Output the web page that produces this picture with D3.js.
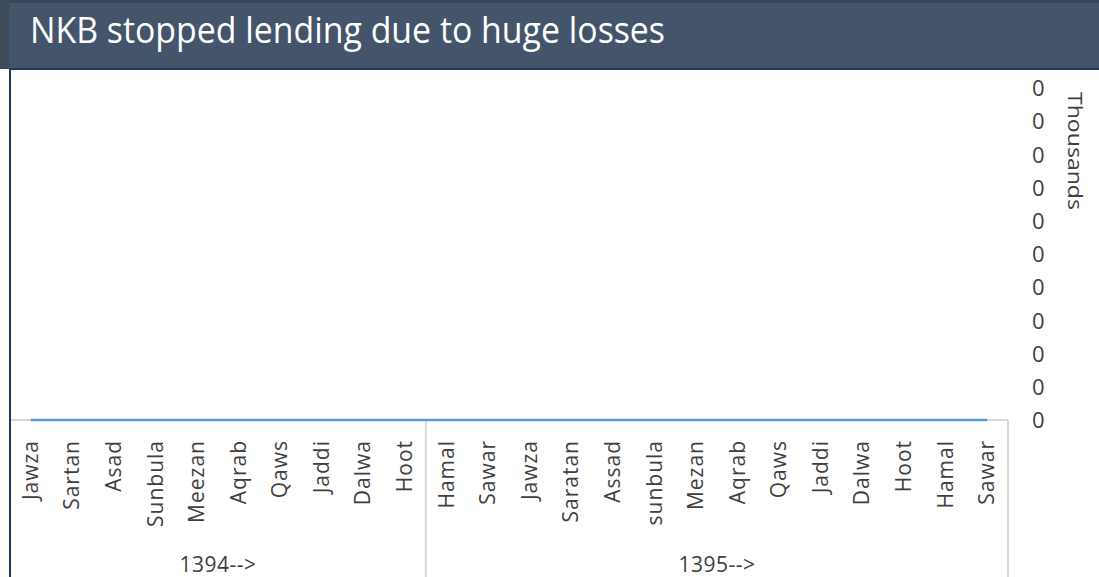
<!DOCTYPE html>
<html>
<head>
<meta charset="utf-8">
<script src="https://cdn.jsdelivr.net/npm/d3@7"></script>
<style>
  html, body { margin: 0; padding: 0; background: #fff; }
  svg { display: block; font-family: "Open Sans", "Noto Sans", sans-serif; }
</style>
</head>
<body>
<svg id="chart" width="1099" height="577"></svg>
<script>
const title = "NKB stopped lending due to huge losses";
const months = ["Jawza","Sartan","Asad","Sunbula","Meezan","Aqrab","Qaws","Jaddi","Dalwa","Hoot",
                "Hamal","Sawar","Jawza","Saratan","Assad","sunbula","Mezan","Aqrab","Qaws","Jaddi","Dalwa","Hoot","Hamal","Sawar"];
const years = ["1394-->","1395-->"];
const yearCounts = [10, 14];
const values = [0,0,0,0,0,0,0,0,0,0,0,0,0,0,0,0,0,0,0,0,0,0,0,0];
const yTickValues = [0,1,2,3,4,5,6,7,8,9,10];
const yTickLabels = ["0","0","0","0","0","0","0","0","0","0","0"];
const yUnitLabel = "Thousands";

const svg = d3.select("#chart");
const W = 1099, H = 577;

// title bar
svg.append("rect").attr("x", 0).attr("y", 0).attr("width", 9).attr("height", 69).attr("fill", "#3E4A5B");
svg.append("rect").attr("x", 9).attr("y", 0).attr("width", W - 9).attr("height", 69).attr("fill", "#44546A");
svg.append("rect").attr("x", 9).attr("y", 0).attr("width", W - 9).attr("height", 3).attr("fill", "#3A4658");
svg.append("rect").attr("x", 9).attr("y", 68).attr("width", W - 9).attr("height", 2).attr("fill", "#1F3864");
svg.append("rect").attr("x", 9).attr("y", 68).attr("width", 2).attr("height", H - 68).attr("fill", "#1F3864");
svg.append("text").attr("x", 30).attr("y", 43)
  .attr("fill", "#FFFFFF").attr("font-size", 37)
  .attr("textLength", 635).attr("lengthAdjust", "spacingAndGlyphs")
  .text(title);

// scales
const plotLeft = 10, plotRight = 1008, axisY = 420, plotTop = 88;
const x = d3.scaleBand().domain(d3.range(months.length)).range([plotLeft, plotRight]);
const y = d3.scaleLinear().domain([0, 10]).range([axisY, plotTop]);

// horizontal axis line
svg.append("line").attr("x1", plotLeft + 1).attr("x2", plotRight).attr("y1", axisY).attr("y2", axisY)
  .attr("stroke", "#D9D9D9").attr("stroke-width", 2);

// group separators
let cum = 0;
const bounds = [0];
yearCounts.forEach(c => { cum += c; bounds.push(cum); });
bounds.slice(1).forEach(b => {
  const xx = b >= months.length ? plotRight : x(b);
  svg.append("line").attr("x1", xx).attr("x2", xx).attr("y1", axisY).attr("y2", H)
    .attr("stroke", "#D9D9D9").attr("stroke-width", 2);
});

// series line
const line = d3.line().x((d, i) => x(i) + x.bandwidth() / 2).y(d => y(d));
svg.append("path").datum(values).attr("d", line)
  .attr("fill", "none").attr("stroke", "#5B9BD5").attr("stroke-width", 2.5);

// category labels
svg.append("g").selectAll("text").data(months).enter().append("text")
  .attr("transform", (d, i) => `translate(${x(i) + x.bandwidth() / 2 + 7},440) rotate(-90)`)
  .attr("text-anchor", "end")
  .attr("font-size", 21).attr("letter-spacing", 1).attr("fill", "#404040")
  .text(d => d);

// year labels
years.forEach((yr, k) => {
  const x0 = x(bounds[k]);
  const x1 = bounds[k + 1] >= months.length ? plotRight : x(bounds[k + 1]);
  svg.append("text").attr("x", (x0 + x1) / 2).attr("y", 572)
    .attr("text-anchor", "middle").attr("font-size", 21).attr("letter-spacing", 0.5).attr("fill", "#404040")
    .text(yr);
});

// right axis
const yAxis = d3.axisRight(y).tickValues(yTickValues).tickFormat((d, i) => yTickLabels[i]).tickSize(0).tickPadding(0);
const ga = svg.append("g").attr("transform", `translate(1032,0)`).call(yAxis);
ga.select(".domain").remove();
ga.selectAll("text").attr("font-size", 22).attr("fill", "#404040")
  .attr("font-family", "Open Sans, sans-serif").attr("dy", "0.35em");

svg.append("text").attr("transform", "translate(1068,92) rotate(90)")
  .attr("text-anchor", "start").attr("font-size", 20).attr("fill", "#404040")
  .attr("textLength", 118).attr("lengthAdjust", "spacingAndGlyphs")
  .text(yUnitLabel);
</script>
</body>
</html>
